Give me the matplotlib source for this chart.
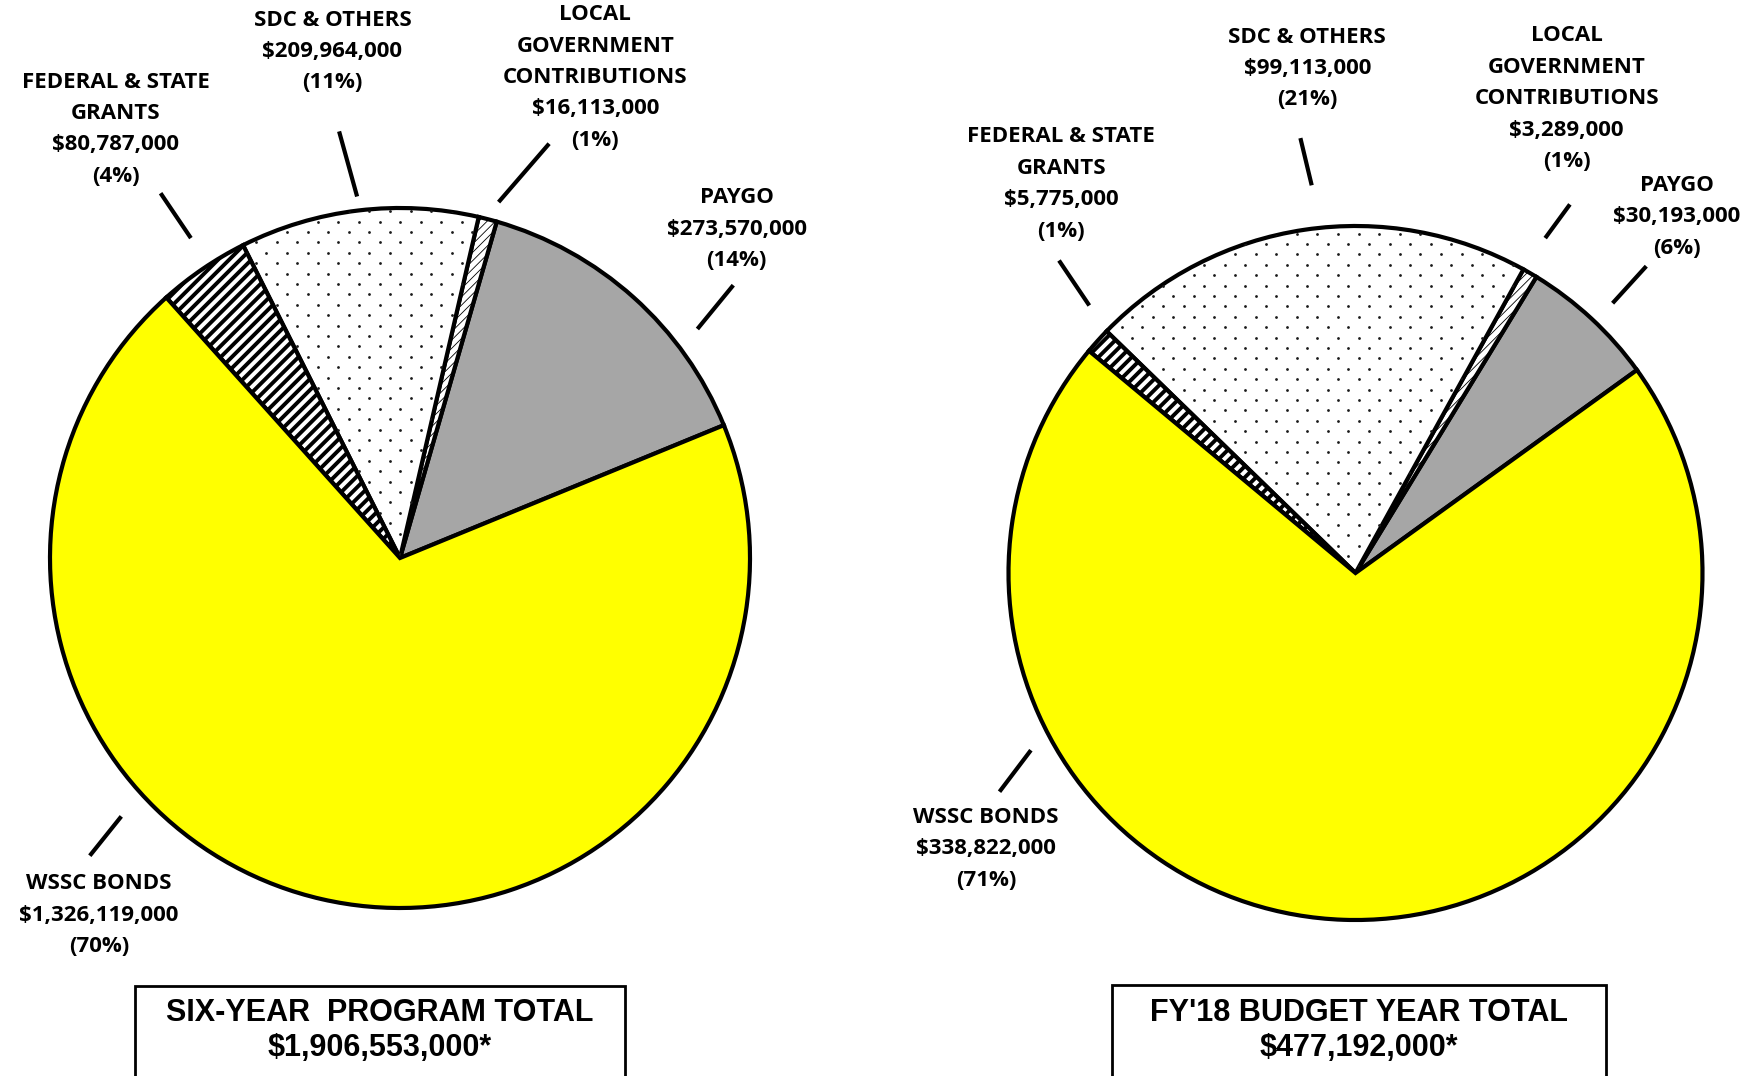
import matplotlib
matplotlib.use("Agg")
import matplotlib.pyplot as plt
import numpy as np
from matplotlib.patches import Rectangle

# ---------------- data ----------------
categories = ["PAYGO", "LOCAL GOVERNMENT CONTRIBUTIONS", "SDC & OTHERS",
              "FEDERAL & STATE GRANTS", "WSSC BONDS"]
six_year_values = [273570000, 16113000, 209964000, 80787000, 1326119000]
fy18_values = [30193000, 3289000, 99113000, 5775000, 338822000]
six_year_pct = ["(14%)", "(1%)", "(11%)", "(4%)", "(70%)"]
fy18_pct = ["(6%)", "(1%)", "(21%)", "(1%)", "(71%)"]
label_lines = [["PAYGO"], ["LOCAL", "GOVERNMENT", "CONTRIBUTIONS"], ["SDC & OTHERS"],
               ["FEDERAL & STATE", "GRANTS"], ["WSSC BONDS"]]
six_year_total_title = "SIX-YEAR  PROGRAM TOTAL"
six_year_total = "$1,906,553,000*"
fy18_total_title = "FY'18 BUDGET YEAR TOTAL"
fy18_total = "$477,192,000*"

# ---------------- styles ----------------
colors = ["#A6A6A6", "white", "white", "white", "#FFFF00"]
hatches = [None, "////", None, "///", None]
hatch_lws = [1.0, 0.6, 1.0, 2.8, 1.0]
dotted = [False, False, True, False, False]   # fine dot fill pattern

W, H = 1761, 1076
fig = plt.figure(figsize=(W / 100, H / 100), dpi=100)
ax = fig.add_axes([0, 0, 1, 1])

LABEL_FONT = dict(family=["Open Sans", "DejaVu Sans"], weight="bold", fontsize=16)
BOX_FONT = dict(family=["Liberation Sans", "DejaVu Sans"], weight="bold", fontsize=22)
LINE_STEP = 31.4
DOT_DX, DOT_DY = 20.6, 10.4


def Y(y):
    return H - y


def dot_fill(wedge, cx, cy, r):
    xs, ys = [], []
    for k, yy in enumerate(np.arange(cy - r, cy + r, DOT_DY)):
        off = (DOT_DX / 2) * (k % 2)
        row = np.arange(cx - r + off, cx + r, DOT_DX)
        xs.extend(row)
        ys.extend([yy] * len(row))
    sc = ax.scatter(xs, ys, s=4.0, color="#1a1a1a", linewidths=0, zorder=wedge.get_zorder() + 0.1)
    sc.set_clip_path(wedge)


def draw_pie(values, center, radius, start):
    wedges, _ = ax.pie(values, colors=colors, startangle=start, counterclock=True,
                       center=(center[0], Y(center[1])), radius=radius,
                       wedgeprops=dict(edgecolor="black", linewidth=3.0),
                       normalize=True)
    for w, h, lw, d in zip(wedges, hatches, hatch_lws, dotted):
        if h:
            w.set_hatch(h)
            if hasattr(w, "set_hatch_linewidth"):
                w.set_hatch_linewidth(lw)
        if d:
            dot_fill(w, center[0], Y(center[1]), radius)
    return wedges


def fmt_money(v):
    return "${:,}".format(v)


def draw_label(lines, cx, y0):
    for i, t in enumerate(lines):
        ax.text(cx, Y(y0 + i * LINE_STEP), t, ha="center", va="center", **LABEL_FONT)


def draw_leader(p0, p1):
    ax.plot([p0[0], p1[0]], [Y(p0[1]), Y(p1[1])], color="black", lw=3.0,
            solid_capstyle="butt")


# layout (pixel positions)
left_center, left_r, left_start = (400, 558), 350, 22.3
right_center, right_r, right_start = (1355.5, 573), 347, 35.8

left_label_pos = [(736.7, 197.6), (595.2, 14.6), (332.4, 20.2), (115.7, 82.0), (98.8, 883.8)]
right_label_pos = [(1676.6, 185.3), (1566.6, 35.9), (1307.2, 37.1), (1061.2, 137.0), (986.0, 817.5)]
left_leaders = [((733.3, 285.2), (697.4, 329.0)), ((549.1, 143.7), (498.6, 202.1)),
                ((339.1, 131.4), (357.1, 196.5)), ((160.6, 193.2), (190.9, 238.1)),
                ((121.3, 816.4), (89.8, 855.7))]
right_leaders = [((1646.3, 266.2), (1612.6, 303.2)), ((1569.9, 204.4), (1545.2, 238.1)),
                 ((1300.4, 138.1), (1311.7, 185.3)), ((1059.0, 260.5), (1089.3, 305.5)),
                 ((1030.9, 750.2), (999.5, 791.7))]

draw_pie(six_year_values, left_center, left_r, left_start)
draw_pie(fy18_values, right_center, right_r, right_start)

for i in range(len(categories)):
    draw_label(label_lines[i] + [fmt_money(six_year_values[i]), six_year_pct[i]], *left_label_pos[i])
    draw_label(label_lines[i] + [fmt_money(fy18_values[i]), fy18_pct[i]], *right_label_pos[i])
    draw_leader(*left_leaders[i])
    draw_leader(*right_leaders[i])

# total boxes
for (x0, x1, ytop), title, total in [((135, 625, 986), six_year_total_title, six_year_total),
                                     ((1112, 1606, 985), fy18_total_title, fy18_total)]:
    ax.add_patch(Rectangle((x0, Y(ytop + 200)), x1 - x0, 200, facecolor="white",
                           edgecolor="black", linewidth=2.0, clip_on=True))
    cx = (x0 + x1) / 2
    ax.text(cx, Y(1013), title, ha="center", va="center", **BOX_FONT)
    ax.text(cx, Y(1048), total, ha="center", va="center", **BOX_FONT)

ax.set_xlim(0, W)
ax.set_ylim(0, H)
ax.set_aspect("equal")
ax.axis("off")

fig.savefig("out.png", dpi=100, facecolor="white")
